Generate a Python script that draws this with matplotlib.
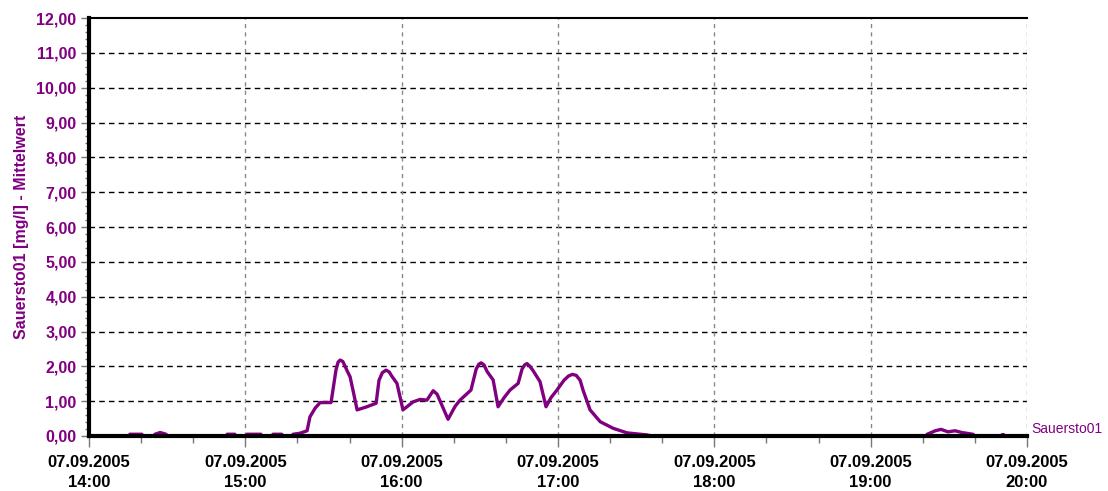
import matplotlib
matplotlib.use("Agg")
import matplotlib.pyplot as plt
import matplotlib.dates as mdates
import numpy as np
import datetime as dt

# Sauerstoff-Messung 07.09.2005, Minuten ab 14:00 und Mittelwert [mg/l]
minutes = [0, 15.5, 15.7, 20.3, 20.5, 25.1, 25.3, 27.3, 29.6, 29.8,
           52.8, 53, 56, 56.2, 60.5, 60.7, 66, 66.2, 70.4, 70.6, 74, 74.2,
           78.1, 78.3, 81, 83.7, 84.8, 86.8, 88.7, 92.9, 94.8, 95.6, 96.4,
           97.4, 98.3, 99.2, 100.2, 101.3, 102.9, 106.3, 110.2, 111.3, 112.6,
           114, 115.2, 116.2, 118.2, 120.5, 124.4, 127.1, 129.7, 132.1, 133.6,
           137.8, 140.5, 142.4, 146.6, 148.6, 149.6, 150.5, 151.6, 152.8,
           155.1, 157, 159.3, 161.6, 164.7, 166.2, 167.2, 168.1, 169.2, 170.4,
           173.1, 175.4, 177.3, 179.6, 182.3, 184, 185.5, 187, 188.5, 189.6,
           192.3, 196.2, 201.2, 206.5, 214.2, 216,
           321.5, 321.7, 324.8, 327, 329.7, 332.4, 335, 339.3, 340,
           350.2, 350.5, 351, 351.2, 360]
values = [0, 0, 0.05, 0.05, 0, 0, 0.05, 0.1, 0.05, 0,
          0, 0.05, 0.05, 0, 0, 0.05, 0.05, 0, 0, 0.05, 0.05, 0,
          0, 0.05, 0.08, 0.15, 0.55, 0.8, 0.96, 0.96, 1.9, 2.12, 2.18,
          2.14, 2.0, 1.85, 1.7, 1.32, 0.75, 0.83, 0.94, 1.6, 1.82,
          1.89, 1.84, 1.72, 1.51, 0.75, 0.98, 1.05, 1.03, 1.3, 1.2,
          0.48, 0.85, 1.03, 1.32, 1.92, 2.06, 2.1, 2.04, 1.85,
          1.61, 0.84, 1.1, 1.32, 1.51, 1.92, 2.04, 2.08, 2.0, 1.88,
          1.56, 0.84, 1.1, 1.32, 1.6, 1.72, 1.77, 1.74, 1.6, 1.32,
          0.75, 0.41, 0.22, 0.09, 0.03, 0,
          0, 0.05, 0.15, 0.19, 0.12, 0.15, 0.1, 0.05, 0,
          0, 0.04, 0.04, 0, 0]

series_name = "Sauersto01"
y_label = "Sauersto01 [mg/l] - Mittelwert"
purple = "#800080"

start = dt.datetime(2005, 9, 7, 14, 0)
times = [start + dt.timedelta(minutes=m) for m in minutes]

fig = plt.figure(figsize=(11.08, 4.91), dpi=100)
ax = fig.add_axes([89 / 1108, 1 - 436 / 491, (1027 - 89) / 1108, (436 - 18) / 491])

ax.plot(times, values, color=purple, lw=2.4, zorder=2,
        solid_joinstyle="round", solid_capstyle="round")

ax.set_xlim(start, start + dt.timedelta(hours=6))
ax.set_ylim(0, 12)

# Achsen
ax.xaxis.set_major_locator(mdates.HourLocator())
ax.xaxis.set_minor_locator(mdates.MinuteLocator(byminute=[20, 40]))
ax.xaxis.set_major_formatter(mdates.DateFormatter("%d.%m.%Y\n%H:%M"))
ax.set_yticks(np.arange(0, 13, 1))
ax.set_yticks(np.arange(0, 12.01, 0.2), minor=True)
ax.yaxis.set_major_formatter(plt.FuncFormatter(lambda v, p: f"{v:.2f}".replace(".", ",")))

for lab in ax.get_xticklabels():
    lab.set_fontfamily("Liberation Sans")
    lab.set_fontweight("bold")
    lab.set_fontsize(12)
    lab.set_linespacing(1.35)
for lab in ax.get_yticklabels():
    lab.set_fontfamily("Liberation Sans")
    lab.set_fontweight("bold")
    lab.set_fontsize(11.5)
    lab.set_color(purple)

ax.tick_params(axis="x", which="major", length=8, width=1, color="#777777", pad=6)
ax.tick_params(axis="x", which="minor", length=5, width=1, color="#777777")
ax.tick_params(axis="y", which="major", length=6, width=1, color="#777777", pad=3)
ax.tick_params(axis="y", which="minor", length=3, width=1, color="#777777")

ax.spines["left"].set_linewidth(3)
ax.spines["bottom"].set_linewidth(3)
ax.spines["top"].set_linewidth(1.5)
ax.spines["right"].set_visible(False)

# Gitter: horizontal schwarz, vertikal grau
for v in range(1, 12):
    ax.axhline(v, color="black", lw=1, ls=(0, (4, 3)), zorder=1)
for h in range(1, 7):
    ax.axvline(start + dt.timedelta(hours=h), color="#888888", lw=1,
               ls=(0, (3, 3)), zorder=1)

ax.set_ylabel(y_label, color=purple, fontfamily="Liberation Sans",
              fontweight="bold", fontsize=11.5)
ax.yaxis.set_label_coords(-0.064, 0.5)

ax.text(1.005, 0.0, series_name, transform=ax.transAxes, color=purple,
        fontfamily="Liberation Sans", fontsize=10, ha="left", va="bottom")

fig.savefig("out.png", dpi=100)
